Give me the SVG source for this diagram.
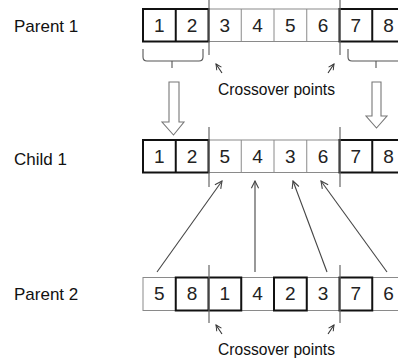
<svg xmlns="http://www.w3.org/2000/svg" width="398" height="364" viewBox="0 0 398 364">
  <defs>
    <marker id="open" viewBox="0 0 10 10" refX="9" refY="5" markerWidth="9" markerHeight="9" markerUnits="userSpaceOnUse" orient="auto">
      <polyline points="1,1 9,5 1,9" fill="none" stroke="#444" stroke-width="1.2"/>
    </marker>
    <marker id="small" viewBox="0 0 10 10" refX="9" refY="5" markerWidth="7" markerHeight="7" markerUnits="userSpaceOnUse" orient="auto">
      <polyline points="1,1 9,5 1,9" fill="none" stroke="#333" stroke-width="1.4"/>
    </marker>
  </defs>
  <style>
    .lbl { font-family: "Liberation Sans", Arial, sans-serif; font-size: 17px; fill: #111; }
    .num { font-family: "Liberation Sans", Arial, sans-serif; font-size: 19px; fill: #222; text-anchor: middle; }
    .cx { font-family: "Liberation Sans", Arial, sans-serif; font-size: 15.6px; fill: #111; }
    .thin { fill: #fff; stroke: #8a8a8a; stroke-width: 1; }
    .thick { fill: none; stroke: #111; stroke-width: 2; }
    .cut { stroke: #666; stroke-width: 1.2; fill: none; }
    .brace { stroke: #555; stroke-width: 1.1; fill: none; }
    .hollow { fill: #fff; stroke: #777; stroke-width: 1.1; }
    .link { stroke: #444; stroke-width: 1.1; fill: none; marker-end: url(#open); }
    .hint { stroke: #333; stroke-width: 1.1; fill: none; marker-end: url(#small); }
  </style>

  <rect width="398" height="364" fill="#fff"/>

  <!-- Parent 1 -->
  <g id="parent1">
    <text class="lbl" x="14" y="32">Parent 1</text>
    <rect class="thin" x="143" y="9" width="262" height="32.5"/>
    <line class="thin" x1="241.25" y1="9" x2="241.25" y2="41.5"/>
    <line class="thin" x1="274" y1="9" x2="274" y2="41.5"/>
    <line class="thin" x1="306.75" y1="9" x2="306.75" y2="41.5"/>
    <rect class="thick" x="143" y="9" width="65.5" height="32.5"/>
    <line class="thick" x1="175.75" y1="9" x2="175.75" y2="41.5"/>
    <rect class="thick" x="339.5" y="9" width="65.5" height="32.5"/>
    <line class="thick" x1="372.25" y1="9" x2="372.25" y2="41.5"/>
    <text class="num" x="159.4" y="32">1</text>
    <text class="num" x="192.1" y="32">2</text>
    <text class="num" x="224.9" y="32">3</text>
    <text class="num" x="257.6" y="32">4</text>
    <text class="num" x="290.4" y="32">5</text>
    <text class="num" x="323.1" y="32">6</text>
    <text class="num" x="355.9" y="32">7</text>
    <text class="num" x="388.6" y="32">8</text>
  </g>

  <!-- Child 1 -->
  <g id="child1">
    <text class="lbl" x="14" y="165">Child 1</text>
    <rect class="thin" x="143" y="140" width="262" height="32.5"/>
    <line class="thin" x1="241.25" y1="140" x2="241.25" y2="172.5"/>
    <line class="thin" x1="274" y1="140" x2="274" y2="172.5"/>
    <line class="thin" x1="306.75" y1="140" x2="306.75" y2="172.5"/>
    <rect class="thick" x="143" y="140" width="65.5" height="32.5"/>
    <line class="thick" x1="175.75" y1="140" x2="175.75" y2="172.5"/>
    <rect class="thick" x="339.5" y="140" width="65.5" height="32.5"/>
    <line class="thick" x1="372.25" y1="140" x2="372.25" y2="172.5"/>
    <text class="num" x="159.4" y="163">1</text>
    <text class="num" x="192.1" y="163">2</text>
    <text class="num" x="224.9" y="163">5</text>
    <text class="num" x="257.6" y="163">4</text>
    <text class="num" x="290.4" y="163">3</text>
    <text class="num" x="323.1" y="163">6</text>
    <text class="num" x="355.9" y="163">7</text>
    <text class="num" x="388.6" y="163">8</text>
  </g>

  <!-- Parent 2 -->
  <g id="parent2">
    <text class="lbl" x="14" y="300">Parent 2</text>
    <rect class="thin" x="143" y="277.5" width="262" height="33"/>
    <line class="thin" x1="241.25" y1="277.5" x2="241.25" y2="310.5"/>
    <line class="thin" x1="306.75" y1="277.5" x2="306.75" y2="310.5"/>
    <rect class="thick" x="175.75" y="277.5" width="65.5" height="33"/>
    <line class="thick" x1="208.5" y1="277.5" x2="208.5" y2="310.5"/>
    <rect class="thick" x="274" y="277.5" width="32.75" height="33"/>
    <rect class="thick" x="339.5" y="277.5" width="32.75" height="33"/>
    <text class="num" x="159.4" y="300">5</text>
    <text class="num" x="192.1" y="300">8</text>
    <text class="num" x="224.9" y="300">1</text>
    <text class="num" x="257.6" y="300">4</text>
    <text class="num" x="290.4" y="300">2</text>
    <text class="num" x="323.1" y="300">3</text>
    <text class="num" x="355.9" y="300">7</text>
    <text class="num" x="388.6" y="300">6</text>
  </g>

  <!-- Crossover point notes -->
  <g id="crossover-top">
    <text class="cx" x="218" y="95">Crossover points</text>
  </g>
  <g id="crossover-bottom">
    <text class="cx" x="218" y="355">Crossover points</text>
  </g>

  <g id="connectors">
    <!-- crossover cut lines -->
    <line class="cut" x1="209" y1="0" x2="209" y2="55"/>
    <line class="cut" x1="340" y1="0" x2="340" y2="55"/>
    <line class="cut" x1="209" y1="127" x2="209" y2="187"/>
    <line class="cut" x1="340" y1="127" x2="340" y2="187"/>
    <line class="cut" x1="209" y1="265" x2="209" y2="323"/>
    <line class="cut" x1="340" y1="265" x2="340" y2="323"/>

    <!-- braces under the kept segments -->
    <path class="brace" d="M143,49 V57 Q143,61 147,61 H199 Q203,61 203,57 V49 M172,61 V68"/>
    <path class="brace" d="M348,49 V57 Q348,61 352,61 H400 M376,61 V68"/>

    <!-- hollow copy arrows -->
    <polygon class="hollow" points="169,82 179,82 179,122 184,122 173.5,135 162,122 169,122"/>
    <polygon class="hollow" points="372,82 381,82 381,116 387,116 376.5,128 366,116 372,116"/>

    <!-- crossover point pointers -->
    <line class="hint" x1="222" y1="73" x2="216" y2="64"/>
    <line class="hint" x1="328" y1="73" x2="334" y2="64"/>
    <line class="hint" x1="222" y1="334" x2="216" y2="325"/>
    <line class="hint" x1="328" y1="334" x2="334" y2="325"/>

    <!-- gene transfer from Parent 2 into Child 1 -->
    <line class="link" x1="157" y1="272" x2="222" y2="181"/>
    <line class="link" x1="255" y1="272" x2="255" y2="181"/>
    <line class="link" x1="327" y1="272" x2="293" y2="181"/>
    <line class="link" x1="387" y1="272" x2="321" y2="181"/>
  </g>
</svg>
